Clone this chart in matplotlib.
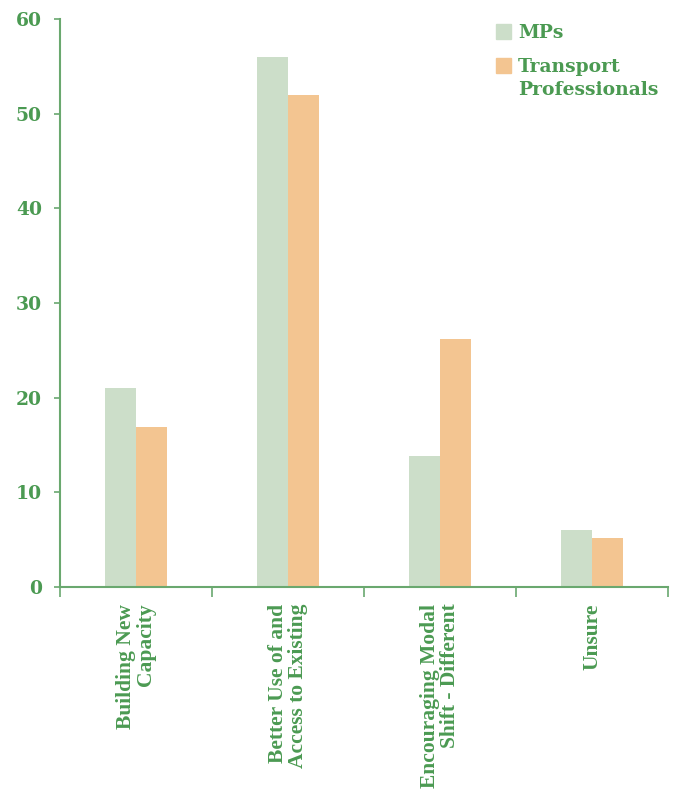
import matplotlib
matplotlib.use("Agg")
import matplotlib.pyplot as plt
import numpy as np
from matplotlib.patches import Rectangle

categories = ["Building New\nCapacity", "Better Use of and\nAccess to Existing",
              "Encouraging Modal\nShift - Different", "Unsure"]
series_names = ["MPs", "Transport Professionals"]
mps = [21, 56, 13.8, 6.0]
tp = [16.9, 52, 26.2, 5.2]
yticks = [0, 10, 20, 30, 40, 50, 60]

GREEN = "#4b9a52"
AXIS = "#6aa86f"
C_MP = "#ccdec9"
C_TP = "#f3c591"
FONT = "Liberation Serif"
FONT2 = "DejaVu Serif"

fig = plt.figure(figsize=(6.78, 7.90), dpi=100)
ax = fig.add_axes([60/678, 1-587/790, 608/678, (587-19)/790])

x = np.arange(len(categories)) + 0.5
w = 0.204
ax.bar(x - w/2, mps, w, color=C_MP, label=series_names[0], zorder=2)
ax.bar(x + w/2, tp, w, color=C_TP, label=series_names[1], zorder=2)

ax.set_xlim(0, len(categories))
ax.set_ylim(0, 60)
ax.set_yticks(yticks)
ax.set_yticklabels([str(v) for v in yticks], fontfamily=FONT2, fontweight="bold",
                   fontsize=13.5, color=GREEN)
ax.set_xticks(np.arange(len(categories) + 1))
ax.set_xticklabels([])
ax.set_xticks(x, minor=True)
ax.set_xticklabels(categories, minor=True, rotation=90, fontfamily=FONT,
                   fontweight="bold", fontsize=15.5, color=GREEN,
                   ha="center", va="top", multialignment="right", linespacing=1.0)
ax.tick_params(axis="x", which="major", length=7, width=1.2, color=AXIS, direction="out")
ax.tick_params(axis="x", which="minor", length=0, pad=12)
ax.tick_params(axis="y", length=4, width=1.2, color=AXIS, pad=9)

for s in ["top", "right"]:
    ax.spines[s].set_visible(False)
for s in ["left", "bottom"]:
    ax.spines[s].set_color(AXIS)
    ax.spines[s].set_linewidth(1.5)

# legend drawn manually
lx, sq = 496, 15
for col, ytop in [(C_MP, 24), (C_TP, 58)]:
    fig.patches.append(Rectangle((lx/678, 1-(ytop+sq)/790), sq/678, sq/790,
                                 transform=fig.transFigure, color=col))
lprops = dict(fontfamily=FONT2, fontweight="bold", fontsize=13.5, color=GREEN,
              ha="left", va="baseline")
fig.text(518/678, 1-38/790, series_names[0], **lprops)
tp_words = series_names[1].split(" ")
fig.text(518/678, 1-72/790, tp_words[0], **lprops)
fig.text(518/678, 1-95/790, tp_words[1], **lprops)

fig.savefig("out.png", dpi=100, facecolor="white")
